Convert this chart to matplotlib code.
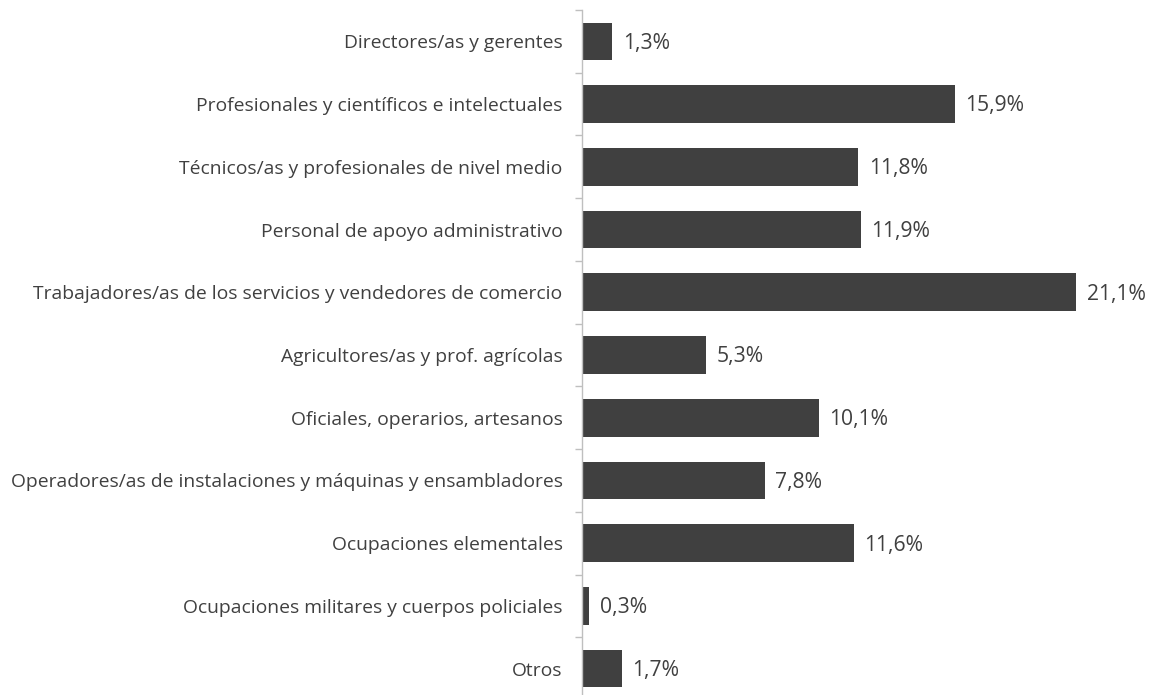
import matplotlib
matplotlib.use("Agg")
import matplotlib.pyplot as plt
import numpy as np

categories = [
    "Directores/as y gerentes",
    "Profesionales y científicos e intelectuales",
    "Técnicos/as y profesionales de nivel medio",
    "Personal de apoyo administrativo",
    "Trabajadores/as de los servicios y vendedores de comercio",
    "Agricultores/as y prof. agrícolas",
    "Oficiales, operarios, artesanos",
    "Operadores/as de instalaciones y máquinas y ensambladores",
    "Ocupaciones elementales",
    "Ocupaciones militares y cuerpos policiales",
    "Otros",
]
values = [1.3, 15.9, 11.8, 11.9, 21.1, 5.3, 10.1, 7.8, 11.6, 0.3, 1.7]
value_labels = ["1,3%", "15,9%", "11,8%", "11,9%", "21,1%", "5,3%", "10,1%", "7,8%", "11,6%", "0,3%", "1,7%"]

plt.rcParams['font.family'] = ['Open Sans', 'DejaVu Sans']
fig = plt.figure(figsize=(11.56, 6.95), dpi=100)
W, H = 1156, 695
ax = fig.add_axes([582 / W, 1 - 700 / H, (W - 582) / W, 690 / H])

y = np.arange(len(categories))
ax.barh(y, values, height=0.6, color="#404040", zorder=2)
for yi, v, lab in zip(y, values, value_labels):
    ax.text(v + 0.45, yi + 0.03, lab, va="center", ha="left", fontsize=15.2, color="#404040")

ax.set_ylim(len(categories) - 0.5, -0.5)
ax.set_xlim(0, 24.5)
ax.set_yticks(y)
ax.set_yticklabels(categories, fontsize=13.9, color="#404040")
ax.tick_params(axis="y", which="major", length=0, pad=14)
ax.set_yticks(np.arange(-0.5, len(categories), 1.0), minor=True)
ax.tick_params(axis="y", which="minor", length=5, color="#bfbfbf", width=1)
ax.set_xticks([])
for s in ["top", "right", "bottom"]:
    ax.spines[s].set_visible(False)
ax.spines["left"].set_color("#bfbfbf")
ax.spines["left"].set_linewidth(1)

fig.savefig("out.png", dpi=100)
